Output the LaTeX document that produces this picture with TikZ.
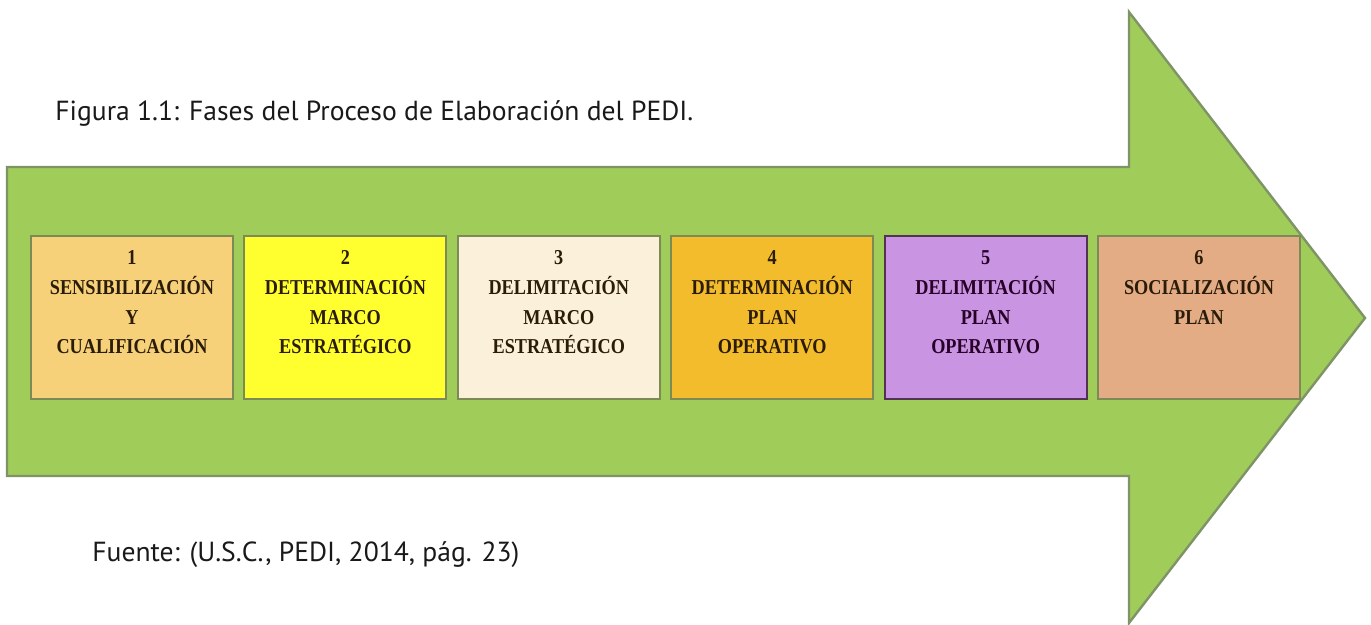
\documentclass[tikz,border=0pt]{standalone}
\usepackage{fontspec}
\usepackage{xcolor}
\usepackage{tikz}
\usetikzlibrary{positioning}
\setmainfont{PT Sans}
\newfontfamily\fasefont[FakeStretch=0.86]{Liberation Serif}
\definecolor{verde}{HTML}{A0CD5A}
\definecolor{bordeverde}{HTML}{7F9466}
\definecolor{borde}{HTML}{7E8A56}
\definecolor{tinta}{HTML}{2A1C08}
\definecolor{fase1}{HTML}{F6D17A}
\definecolor{fase2}{HTML}{FFFF30}
\definecolor{fase3}{HTML}{FBF1DA}
\definecolor{fase4}{HTML}{F3BC2C}
\definecolor{fase5}{HTML}{C994E2}
\definecolor{fase6}{HTML}{E3AC84}
\tikzset{fase/.style={draw=borde,line width=1pt,inner xsep=0pt,inner ysep=0pt,text width=101pt,align=center,text height=14.5pt,text depth=67pt,font=\fasefont\bfseries\fontsize{10.6}{14.8}\selectfont,text=tinta},
flecha/.style={fill=verde,draw=bordeverde,line width=1.2pt,line join=miter},
leyenda/.style={anchor=west,inner sep=0pt,font=\fontsize{13.8}{16}\selectfont,text=black!90},}

\begin{document}
\begin{tikzpicture}[x=0.5pt,y=-0.5pt]
    \useasboundingbox (0,0) rectangle (1371,625);
    % flecha
    \draw[flecha] (7,167) -- (1129,167) -- (1129,12) -- (1365,318) -- (1129,623) -- (1129,476) -- (7,476) -- cycle;

    \node[leyenda] (titulo) at (55,113) {Figura 1.1: Fases del Proceso de Elaboración del PEDI.};
    \node[leyenda] (fuente) at (92,555) {Fuente: (U.S.C., PEDI, 2014, pág. 23)};

    % fases
    \node[fase,fill=fase1,anchor=north west] (f1) at (30,235) {1\\SENSIBILIZACIÓN\\Y\\CUALIFICACIÓN};
    \node[fase,fill=fase2] (f2) [right = 4.7pt of f1] {2\\DETERMINACIÓN\\MARCO\\ESTRATÉGICO};
    \node[fase,fill=fase3] (f3) [right = 4.7pt of f2] {3\\DELIMITACIÓN\\MARCO\\ESTRATÉGICO};
    \node[fase,fill=fase4] (f4) [right = 4.7pt of f3] {4\\DETERMINACIÓN\\PLAN\\OPERATIVO};
    \node[fase,fill=fase5,draw=violet!30!black!80,text=violet!30!black] (f5) [right = 4.7pt of f4] {5\\DELIMITACIÓN\\PLAN\\OPERATIVO};
    \node[fase,fill=fase6] (f6) [right = 4.7pt of f5] {6\\SOCIALIZACIÓN\\PLAN};
\end{tikzpicture}
\end{document}
